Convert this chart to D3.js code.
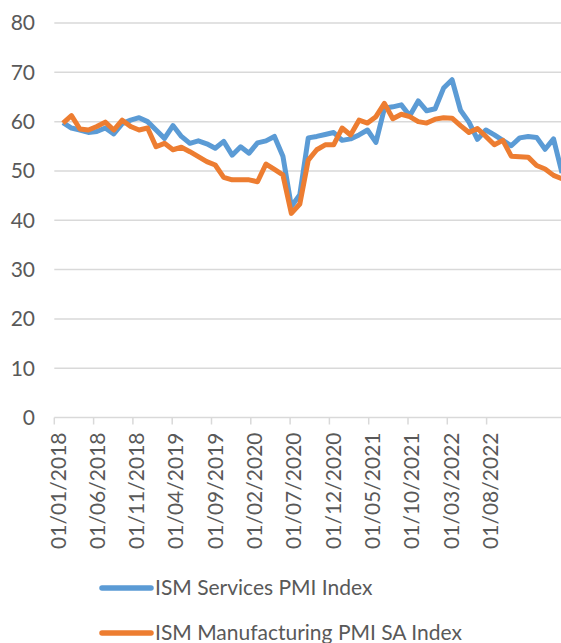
<!DOCTYPE html>
<html>
  <head>
    <meta charset="utf-8">
    <title>ISM PMI</title>
    <script src="https://d3js.org/d3.v7.min.js"></script>
    <style>
      body { margin: 0; background: #fff; }
      text { font-family: Lato, "Open Sans", sans-serif; fill: #595959; }
    </style>
  </head>
  <body>
    <div id="chart"></div>
    <script>
      // monthly values, Jan 2018 - Dec 2022
      var services = [
        59.8, 58.7, 58.3, 57.8, 58.0, 58.7, 57.5, 59.6, 60.3, 60.8,
        60.0, 58.3, 56.6, 59.2, 57.0, 55.6, 56.1, 55.5, 54.6, 56.0,
        53.2, 54.9, 53.6, 55.7, 56.1, 57.0, 53.0, 42.8, 45.2, 56.7,
        57.0, 57.4, 57.8, 56.2, 56.5, 57.3, 58.3, 55.8, 62.7, 63.0,
        63.4, 61.2, 64.2, 62.2, 62.6, 66.8, 68.5, 62.3, 59.9, 56.4,
        58.3, 57.3, 56.2, 55.1, 56.7, 57.0, 56.8, 54.4, 56.5, 49.6
      ];
      var manufacturing = [
        59.7, 61.2, 58.5, 58.3, 59.0, 59.9, 58.3, 60.3, 59.0, 58.3,
        58.7, 54.9, 55.6, 54.3, 54.8, 53.9, 52.9, 51.9, 51.2, 48.7,
        48.2, 48.2, 48.2, 47.8, 51.4, 50.3, 49.2, 41.4, 43.3, 52.2,
        54.3, 55.3, 55.3, 58.7, 57.3, 60.3, 59.7, 61.0, 63.7, 60.6,
        61.5, 61.0, 60.0, 59.7, 60.5, 60.8, 60.7, 59.2, 57.8, 58.6,
        57.0, 55.3, 56.2, 53.0, 52.9, 52.8, 51.1, 50.4, 49.1, 48.4
      ];
      var tickLabels = ["01/01/2018", "01/06/2018", "01/11/2018", "01/04/2019",
        "01/09/2019", "01/02/2020", "01/07/2020", "01/12/2020", "01/05/2021",
        "01/10/2021", "01/03/2022", "01/08/2022"];
      var yTicks = [0, 10, 20, 30, 40, 50, 60, 70, 80];
      var seriesNames = ["ISM Services PMI Index", "ISM Manufacturing PMI SA Index"];
      var colors = ["#5B9BD5", "#ED7D31"];

      var W = 561, H = 643;
      var left = 54.3, right = 561;
      var parse = d3.timeParse("%d/%m/%Y");

      var svg = d3.select("#chart").append("svg")
        .attr("width", W).attr("height", H);

      var months = d3.timeMonth.range(new Date(2018, 0, 1), new Date(2023, 0, 1));
      var axisMonths = d3.timeMonth.range(new Date(2018, 0, 1), new Date(2023, 4, 1));

      // data positions
      var x = d3.scalePoint()
        .domain(months.map(function(d) { return +d; }))
        .range([63, 562]);

      // category axis (labels every 5 months)
      var xAxis = d3.scaleBand()
        .domain(axisMonths.map(function(d) { return +d; }))
        .range([left, left + 7.86 * axisMonths.length]);

      var y = d3.scaleLinear().domain([0, 80]).range([417.5, 23]);

      // gridlines
      svg.append("g")
        .selectAll("line")
        .data(yTicks.slice(1))
        .enter().append("line")
          .attr("x1", left).attr("x2", right)
          .attr("y1", function(d) { return y(d); })
          .attr("y2", function(d) { return y(d); })
          .attr("stroke", "#d9d9d9")
          .attr("stroke-width", 1.5);

      // y labels
      svg.append("g")
        .selectAll("text")
        .data(yTicks)
        .enter().append("text")
          .attr("x", 35)
          .attr("y", function(d) { return y(d); })
          .attr("dy", "0.35em")
          .attr("text-anchor", "end")
          .style("font-size", "21px")
          .text(function(d) { return d; });

      // x axis
      var bw = xAxis.bandwidth();
      var gx = svg.append("g")
        .attr("transform", "translate(0," + y(0) + ")")
        .call(d3.axisBottom(xAxis)
          .tickValues(tickLabels.map(function(t) { return +parse(t); }))
          .tickFormat(function(d, i) { return tickLabels[i]; })
          .tickSize(7)
          .tickSizeOuter(0));
      gx.select(".domain").remove();
      gx.append("line")
        .attr("x1", left).attr("x2", right)
        .attr("stroke", "#d9d9d9").attr("stroke-width", 1.5);
      gx.selectAll(".tick line")
        .attr("x1", -bw / 2).attr("x2", -bw / 2)
        .attr("stroke", "#d9d9d9").attr("stroke-width", 1.5);
      gx.selectAll(".tick text")
        .attr("transform", "rotate(-90)")
        .attr("x", -15).attr("y", 0).attr("dy", "0.35em")
        .attr("text-anchor", "end")
        .style("font-family", "Lato, sans-serif")
        .style("font-size", "21px")
        .attr("fill", "#595959");

      // lines
      var line = d3.line()
        .x(function(d, i) { return x(+months[i]); })
        .y(function(d) { return y(d); });

      [services, manufacturing].forEach(function(s, k) {
        svg.append("path")
          .datum(s)
          .attr("d", line)
          .attr("fill", "none")
          .attr("stroke", colors[k])
          .attr("stroke-width", 5)
          .attr("stroke-linejoin", "round");
      });

      // legend
      var legend = svg.append("g")
        .selectAll("g")
        .data(seriesNames)
        .enter().append("g")
          .attr("transform", function(d, i) { return "translate(0," + (588 + 45 * i) + ")"; });
      legend.append("line")
        .attr("x1", 102).attr("x2", 151)
        .attr("stroke", function(d, i) { return colors[i]; })
        .attr("stroke-width", 5.5)
        .attr("stroke-linecap", "round");
      legend.append("text")
        .attr("x", 155)
        .attr("dy", "0.35em")
        .style("font-size", "21px")
        .text(function(d) { return d; });
    </script>
  </body>
</html>
